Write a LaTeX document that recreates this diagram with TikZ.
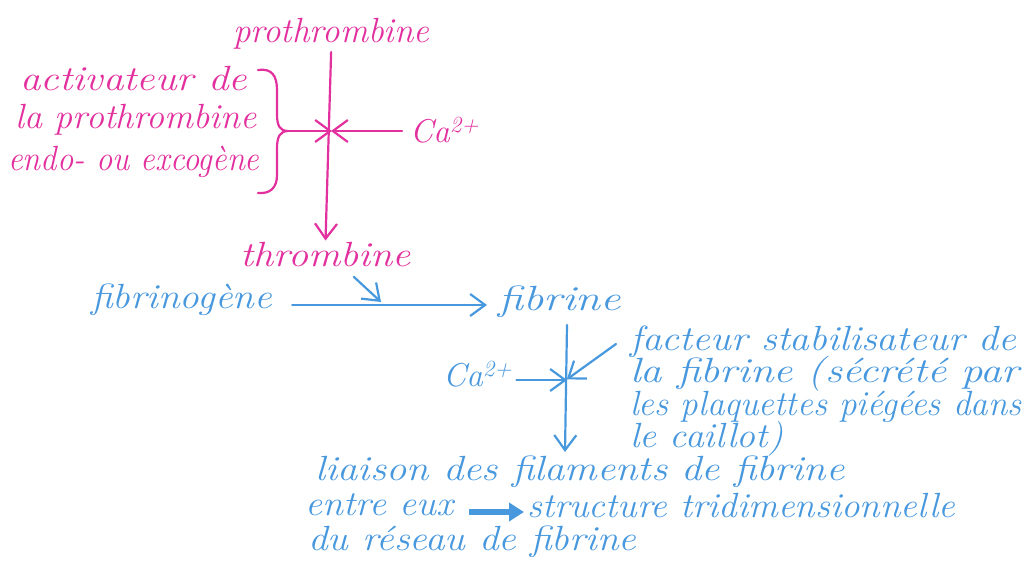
\documentclass[tikz,border=0pt]{standalone}
\usetikzlibrary{arrows.meta,calc}
\definecolor{mag}{RGB}{226,48,158}
\definecolor{blu}{RGB}{72,152,222}
\newcommand{\hsx}[2]{\scalebox{#1}[1]{#2}}
\begin{document}
\begin{tikzpicture}[x=1pt,y=-1pt,
  hw/.style={inner sep=0pt, anchor=base west, font=\fontsize{#1}{#1}\selectfont\itshape},
  pk/.style={text=mag},
  bl/.style={text=blu},
  pen/.style={line width=2.2pt, line cap=round, line join=round},
  arr/.style={pen, -{Straight Barb[length=15pt,width=22pt,line width=2.2pt]}},
  fatarr/.style={line width=6pt, -{Triangle[length=15pt,width=18pt]}}
]
\useasboundingbox (0,0) rectangle (1029,563);

% --- magenta part ---
\node[hw=35,pk] (pro) at (233,42) {prothrombine};
\node[hw=35,pk] (thr) at (240,266) {\hsx{1.15}{thrombine}};
\node[hw=35,pk] (act1) at (20,90) {\hsx{1.17}{activateur de}};
\node[hw=35,pk] (act2) at (15,128) {\hsx{1.03}{la prothrombine}};
\node[hw=35,pk] (act3) at (8,170) {\hsx{0.93}{endo- ou excogène}};
\node[hw=33,pk] (ca1) at (410,142) {Ca\textsuperscript{2+}};

\draw[pen,mag] (258,70) .. controls (272,68) and (277,76) .. (277,90) -- (277,114)
  .. controls (277,126) and (280,131) .. (288,131)
  .. controls (280,131) and (277,137) .. (277,148) -- (277,175)
  .. controls (277,188) and (270,194) .. (258,193);
\coordinate (bt) at (288,131);
\coordinate (j1) at (334,131);

\draw[arr,mag,shorten <=3pt,shorten >=1pt] (pro.south) -- (thr.north);
\draw[arr,mag,shorten >=2pt] (bt) -- (j1);
\draw[arr,mag,shorten <=8pt,shorten >=-3pt] (ca1.west |- j1) -- (j1);

% --- blue part ---
\node[hw=35,bl] (fibg) at (91,308) {\hsx{1.12}{fibrinogène}};
\node[hw=35,bl] (fib) at (498,310) {\hsx{1.29}{fibrine}};
\coordinate (h1) at (0,305);
\draw[arr,blu,shorten <=20pt,shorten >=11pt] (fibg.east |- h1) -- (fib.west |- h1);
\coordinate (ta) at (354,277);
\coordinate (tb) at (381,302);
\draw[arr,blu] (ta) -- (tb);

\node[hw=33,bl] (ca2) at (443,386) {Ca\textsuperscript{2+}};
\node[hw=35,bl] (f1) at (630,350) {\hsx{1.13}{facteur stabilisateur de}};
\node[hw=35,bl] (f2) at (630,382) {\hsx{1.22}{la fibrine (sécrété par}};
\node[hw=35,bl] (f3) at (630,415) {les plaquettes piégées dans};
\node[hw=35,bl] (f4) at (630,447) {\hsx{1.08}{le caillot)}};

\coordinate (v1) at (567,325);
\coordinate (j2) at (566,380);
\coordinate (v2) at (565,452);
\coordinate (fa) at (616,344);
\draw[arr,blu] (v1) -- (v2);
\draw[arr,blu,shorten <=4pt,shorten >=-1pt] (ca2.east |- j2) -- (j2);
\draw[arr,blu,shorten >=1pt] (fa) -- (j2);

\node[hw=35,bl] (l1) at (315,480) {\hsx{1.16}{liaison des filaments de fibrine}};
\node[hw=35,bl] (l2a) at (305,515) {\hsx{1.08}{entre eux}};
\node[hw=35,bl] (l2b) at (527,517) {\hsx{1.06}{structure tridimensionnelle}};
\node[hw=35,bl] (l3) at (308,550) {\hsx{1.12}{du réseau de fibrine}};
\coordinate (h2) at (0,512);
\draw[fatarr,blu,shorten <=16pt,shorten >=3pt] (l2a.east |- h2) -- (l2b.west |- h2);
\end{tikzpicture}
\end{document}
